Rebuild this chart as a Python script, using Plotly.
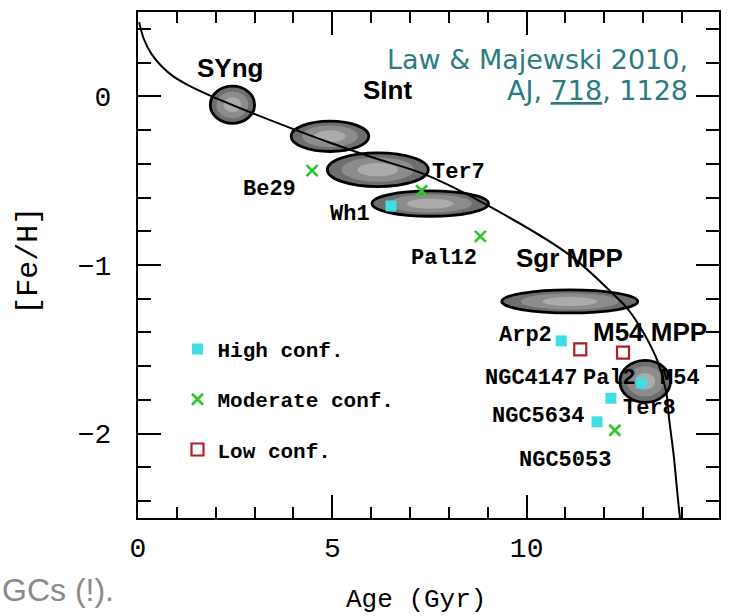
import plotly.graph_objects as go

# ---- data ----
# age-metallicity relation curve
amr_age = [0.03, 0.15, 0.35, 0.6, 0.9, 1.3, 1.9, 2.95, 3.95, 5.0, 6.0, 7.35, 8.7, 11.1, 12.26, 12.6, 13.03, 13.37, 13.59, 13.67, 13.78, 13.89, 13.95]
amr_feh = [0.44, 0.34, 0.25, 0.18, 0.12, 0.065, 0.0, -0.10, -0.19, -0.28, -0.36, -0.46, -0.61, -0.94, -1.18, -1.26, -1.41, -1.57, -1.75, -1.92, -2.12, -2.38, -2.51]

# Sgr populations (ellipses): centre age, centre [Fe/H], half-width (Gyr), half-height (dex)
pop_age = [2.43, 4.94, 6.17, 7.52, 11.11, 13.05]
pop_feh = [-0.05, -0.237, -0.435, -0.636, -1.216, -1.69]
pop_dage = [0.57, 1.0, 1.3, 1.5, 1.75, 0.65]
pop_dfeh = [0.11, 0.09, 0.10, 0.075, 0.068, 0.125]

pop_names = ["SYng", "SInt", "Sgr MPP", "M54 MPP"]
pop_label_age = [2.36, 6.43, 11.1, 13.17]
pop_label_feh = [0.17, 0.04, -0.96, -1.40]

# globular clusters by confidence
high_age = [6.51, 10.89, 12.96, 12.17, 11.81]
high_feh = [-0.65, -1.45, -1.70, -1.79, -1.93]
mod_age = [4.48, 7.30, 8.81, 12.27]
mod_feh = [-0.44, -0.56, -0.83, -1.98]
low_age = [11.38, 12.48]
low_feh = [-1.50, -1.52]

gc_names = ["Be29", "Ter7", "Wh1", "Pal12", "Arp2", "NGC4147", "Pal2", "M54", "Ter8", "NGC5634", "NGC5053"]
gc_label_age = [3.38, 8.25, 5.46, 7.87, 9.97, 10.1, 12.14, 13.94, 13.17, 10.3, 11.0]
gc_label_feh = [-0.55, -0.45, -0.70, -0.96, -1.42, -1.67, -1.67, -1.67, -1.85, -1.90, -2.16]

x_ticks = [0, 5, 10]
y_ticks = [0, -1, -2]
y_ticklabels = ["0", "\u22121", "\u22122"]

# ---- figure ----
fig = go.Figure()

fig.add_trace(go.Scatter(x=amr_age, y=amr_feh, mode="lines",
                         line=dict(color="black", width=2, shape="spline", smoothing=1.0),
                         showlegend=False, hoverinfo="skip"))

fig.add_trace(go.Scatter(x=high_age, y=high_feh, mode="markers", name="<b>High conf.</b>",
                         legendgroup="h",
                         marker=dict(symbol="square", size=11, color="#3fdde4", line=dict(width=0))))
fig.add_trace(go.Scatter(x=mod_age, y=mod_feh, mode="markers", name="<b>Moderate conf.</b>",
                         legendgroup="m",
                         marker=dict(symbol="x-thin-open", size=11, color="#2ec52e",
                                     line=dict(width=2.6, color="#2ec52e"))))
fig.add_trace(go.Scatter(x=low_age, y=low_feh, mode="markers", name="<b>Low conf.</b>",
                         legendgroup="l",
                         marker=dict(symbol="square-open", size=12, color="#b21e24",
                                     line=dict(width=2.2, color="#b21e24"))))

# ellipses with layered grey shading
shapes = []
layers = [(1.0, "#6e6e6e", 2.8), (0.72, "#8c8c8c", 0), (0.4, "#ababab", 0)]
for a, f, da, df in zip(pop_age, pop_feh, pop_dage, pop_dfeh):
    for k, col, lw in layers:
        shapes.append(dict(type="circle", xref="x", yref="y", layer="below",
                           x0=a - da * k, x1=a + da * k, y0=f - df * k, y1=f + df * k,
                           fillcolor=col, line=dict(color="black", width=lw)))

annotations = []
for n, a, f in zip(pop_names, pop_label_age, pop_label_feh):
    annotations.append(dict(x=a, y=f, text="<b>%s</b>" % n, showarrow=False,
                            font=dict(family="Liberation Sans", size=26, color="black")))
for n, a, f in zip(gc_names, gc_label_age, gc_label_feh):
    annotations.append(dict(x=a, y=f, text="<b>%s</b>" % n, showarrow=False,
                            font=dict(family="Liberation Mono", size=22, color="black")))

teal = "#2b7c80"
annotations.append(dict(xref="paper", yref="paper", x=0.95, y=0.907, xanchor="right", yanchor="middle",
                        text="Law & Majewski 2010,", showarrow=False,
                        font=dict(family="DejaVu Sans", size=27, color=teal)))
annotations.append(dict(xref="paper", yref="paper", x=0.95, y=0.844, xanchor="right", yanchor="middle",
                        text="AJ, <u>718</u>, 1128", showarrow=False,
                        font=dict(family="DejaVu Sans", size=27, color=teal)))
annotations.append(dict(xref="paper", yref="paper", x=-0.237, y=-0.143, xanchor="left", yanchor="middle",
                        text="GCs (!).", showarrow=False,
                        font=dict(family="Liberation Sans", size=32, color="#8a8a8a")))
annotations.append(dict(xref="paper", yref="paper", x=0.479, y=-0.162, xanchor="center", yanchor="middle",
                        text="Age (Gyr)", showarrow=False,
                        font=dict(family="Liberation Mono", size=26, color="black")))
annotations.append(dict(xref="paper", yref="paper", x=-0.187, y=0.509, xanchor="center", yanchor="middle",
                        text="[Fe/H]", textangle=-90, showarrow=False,
                        font=dict(family="Liberation Mono", size=30, color="black")))

axis_common = dict(showline=True, linecolor="black", linewidth=2, mirror="allticks",
                   ticks="inside", tickcolor="black", tickwidth=2, ticklen=23,
                   showgrid=False, zeroline=False,
                   tickfont=dict(family="Liberation Mono", size=28, color="black"))

fig.update_xaxes(range=[0, 14.95], tickvals=x_ticks, ticktext=[str(v) for v in x_ticks],
                 minor=dict(dtick=1, tick0=0, ticks="inside", ticklen=11, tickwidth=2, tickcolor="black"),
                 ticklabelstandoff=3, **axis_common)
fig.update_yaxes(range=[-2.5, 0.5], tickvals=y_ticks, ticktext=y_ticklabels,
                 minor=dict(dtick=0.2, tick0=0, ticks="inside", ticklen=13, tickwidth=2, tickcolor="black"),
                 ticklabelstandoff=19, **axis_common)

fig.update_layout(width=730, height=616, margin=dict(l=138, r=9, t=12, b=98),
                  paper_bgcolor="white", plot_bgcolor="white",
                  shapes=shapes, annotations=annotations,
                  legend=dict(x=0.068, y=0.374, xanchor="left", yanchor="top",
                              bgcolor="rgba(0,0,0,0)", traceorder="grouped", tracegroupgap=20,
                              font=dict(family="Liberation Mono", size=21, color="black"),
                              itemwidth=30),
                  showlegend=True)

fig.write_html("out.html", config={"displayModeBar": False},
               post_script="document.body.style.margin='0';")
